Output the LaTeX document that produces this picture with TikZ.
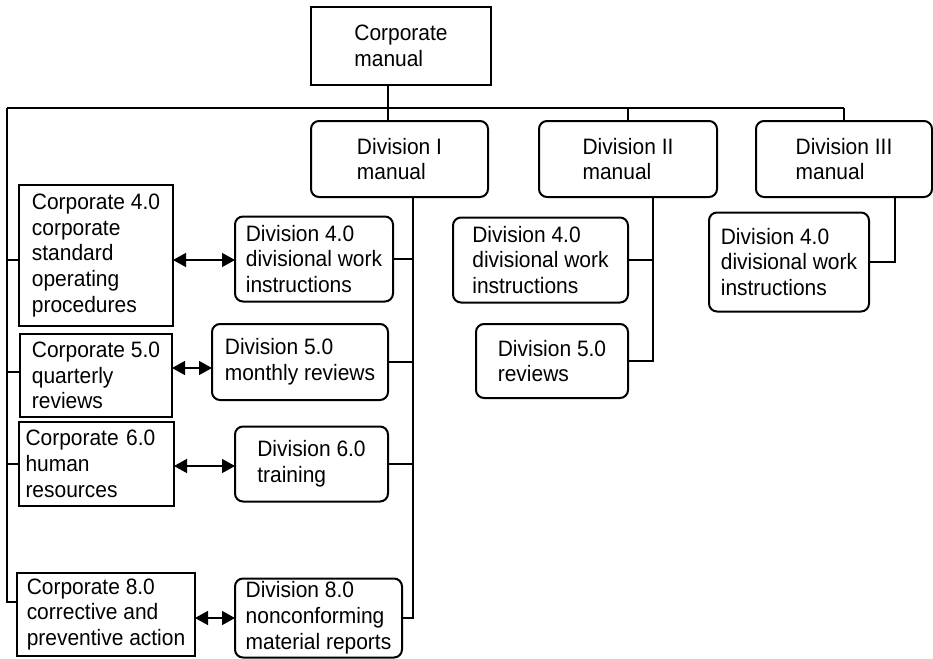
\documentclass[tikz,border=0pt]{standalone}
\usepackage{fontspec}
\setmainfont{Liberation Sans}[FakeStretch=0.94]
\usetikzlibrary{arrows.meta,calc}
\begin{document}
\begin{tikzpicture}[x=1pt,y=-1pt,line width=2pt,
  every node/.style={inner sep=0pt,outer sep=0pt,align=left,
    font=\fontsize{22.3}{25.8}\selectfont},
  sqbox/.style={draw},
  rbox/.style={draw,rounded corners=8pt},
  link/.style={draw,line width=2pt},
  biarrow/.style={line width=1.4pt,{Triangle[length=13pt,width=14pt]}-{Triangle[length=13pt,width=14pt]}}]
\useasboundingbox (0,0) rectangle (933,658);

% top level
\node[sqbox,minimum width=180pt,minimum height=78pt] (cm) at (401,46) {Corporate\\manual};

% division manuals
\node[rbox,minimum width=177pt,minimum height=76pt] (d1) at (399.5,159) {Division I\\manual};
\node[rbox,minimum width=178pt,minimum height=76pt] (d2) at (628,159) {Division II\\manual};
\node[rbox,minimum width=176pt,minimum height=76pt] (d3) at (844,159) {Division III\\manual};

% corporate procedures
\node[sqbox,minimum width=154pt,minimum height=141pt] (c4) at (96,255.5) {Corporate 4.0\\corporate\\standard\\operating\\procedures};
\node[sqbox,minimum width=152pt,minimum height=83pt] (c5) at (96,375.5) {Corporate 5.0\\quarterly\\reviews};
\node[sqbox,minimum width=155pt,minimum height=84pt,text width=142pt] (c6) at (96.5,464) {Corporate 6.0\\human\\resources};
\node[sqbox,minimum width=178pt,minimum height=83pt] (c8) at (106,614.5) {Corporate 8.0\\corrective and\\preventive action};

% division I documents
\node[rbox,minimum width=158pt,minimum height=85pt] (e4) at (314,259) {Division 4.0\\divisional work\\instructions};
\node[rbox,minimum width=176pt,minimum height=76pt] (e5) at (300,362) {Division 5.0\\monthly reviews};
\node[rbox,minimum width=153pt,minimum height=75pt] (e6) at (311.5,464) {Division 6.0\\training};
\node[rbox,minimum width=167pt,minimum height=79pt] (e8) at (318.5,618) {Division 8.0\\nonconforming\\material reports};

% division II documents
\node[rbox,minimum width=175pt,minimum height=85pt] (f4) at (540.5,260) {Division 4.0\\divisional work\\instructions};
\node[rbox,minimum width=152pt,minimum height=74pt] (f5) at (552,361) {Division 5.0\\reviews};

% division III documents
\node[rbox,minimum width=160pt,minimum height=99pt] (g4) at (789,262) {Division 4.0\\divisional work\\instructions};

% guide coordinates for the trunk lines
\coordinate (busL) at (7,108);
\coordinate (busR) at (844,108);
\coordinate (stem) at (388,108);
\coordinate (sp1) at (413,0);
\coordinate (sp2) at (653,0);
\coordinate (sp3) at (895,0);

% corporate bus
\draw[link] (busL) -- (busR);
\draw[link] (cm.south -| stem) -- (d1.north -| stem);
\draw[link] (d2.north |- busL) -- (d2.north);
\draw[link] (busR) -- (d3.north);

% corporate spine on the left
\draw[link] (busL) |- ([yshift=12.5pt]c8.west);
\draw[link] ([yshift=-4.5pt]c4.west -| busL) -- ([yshift=-4.5pt]c4.west);
\draw[link] ([yshift=3.5pt]c5.west -| busL) -- ([yshift=3.5pt]c5.west);
\draw[link] (c6.west -| busL) -- (c6.west);

% division I spine
\draw[link] (d1.south -| sp1) |- (e8.east);
\draw[link] (e4.east) -- (e4.east -| sp1);
\draw[link] (e5.east) -- (e5.east -| sp1);
\draw[link] (e6.east) -- (e6.east -| sp1);

% division II spine
\draw[link] (d2.south -| sp2) |- (f5.east);
\draw[link] (f4.east) -- (f4.east -| sp2);

% division III spine
\draw[link] (d3.south -| sp3) |- (g4.east);

% corporate <-> division links
\draw[biarrow] ([yshift=-4.5pt]c4.east) -- ([yshift=-4.5pt]c4.east -| e4.west);
\draw[biarrow] ([yshift=7.5pt]c5.east) -- ([yshift=7.5pt]c5.east -| e5.west);
\draw[biarrow] ([yshift=-2pt]c6.east) -- ([yshift=-2pt]c6.east -| e6.west);
\draw[biarrow] (e8.west -| c8.east) -- (e8.west);
\end{tikzpicture}
\end{document}
